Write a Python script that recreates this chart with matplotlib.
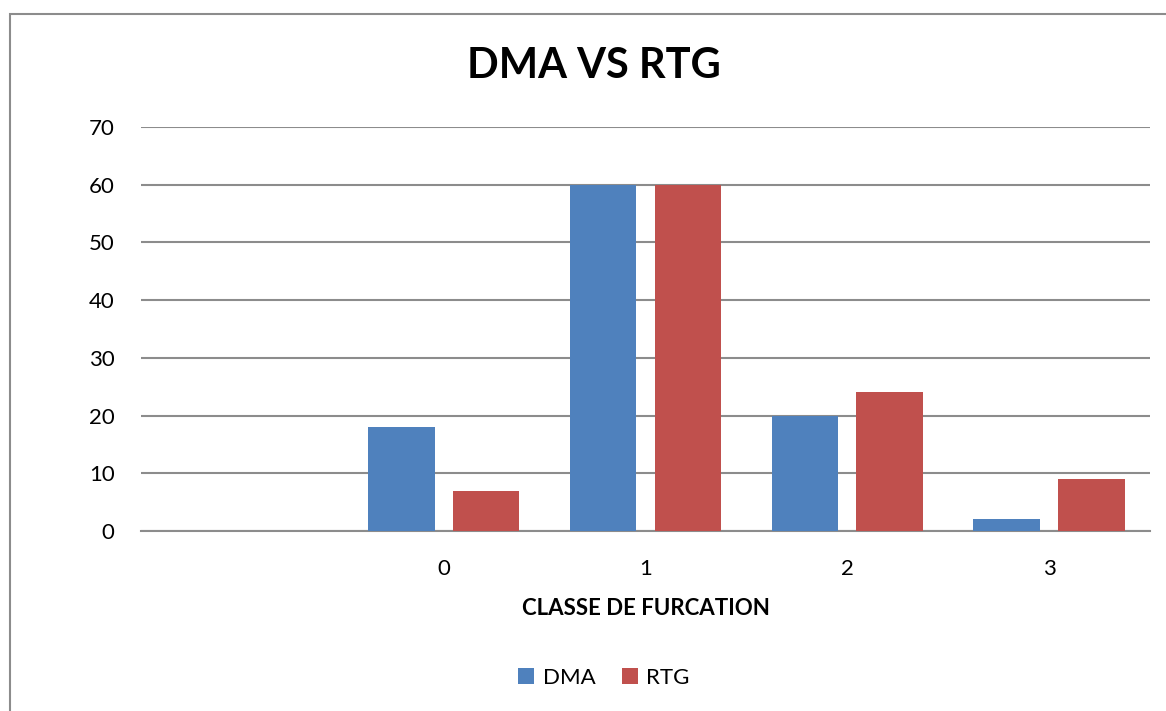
import matplotlib
matplotlib.use('Agg')
from matplotlib import pyplot as plt
from matplotlib.patches import Rectangle
import numpy as np

plt.rcParams['font.family'] = ['Lato', 'DejaVu Sans']

# categories (the first one is empty in the source sheet)
categories = ['', '0', '1', '2', '3']
dma = [0, 18, 60, 20, 2]
rtg = [0, 7, 60, 24, 9]

blue = '#4f81bd'
red = '#c0504d'

fig = plt.figure(figsize=(11.66, 7.11), dpi=100)
ax = fig.add_axes([141 / 1166, 1 - 531 / 711, (1150 - 141) / 1166, (531 - 127) / 711])

x = np.arange(len(categories))
w = 0.33
ax.bar(x - 0.21, dma, w, color=blue, label='DMA', zorder=3)
ax.bar(x + 0.21, rtg, w, color=red, label='RTG', zorder=3)

ax.set_xlim(-0.5, len(categories) - 0.5)
ax.set_ylim(0, 70)
ax.set_yticks(range(0, 71, 10))
ax.set_xticks(x)
ax.set_xticklabels(categories)
ax.grid(axis='y', color='#8c8c8c', linewidth=1.5, zorder=0)
for s in ['top', 'right', 'left']:
    ax.spines[s].set_visible(False)
ax.spines['bottom'].set_color('#8c8c8c')
ax.spines['bottom'].set_linewidth(1.5)
ax.tick_params(axis='both', length=0, labelsize=16)
ax.tick_params(axis='y', pad=19)
ax.tick_params(axis='x', pad=20)

ax.set_xlabel('CLASSE DE FURCATION', fontsize=16, fontweight='bold', labelpad=14)
fig.text(594 / 1166, 1 - 66 / 711, 'DMA VS RTG', fontsize=30, fontweight='bold',
         ha='center', va='center')

fig.legend(loc='center', bbox_to_anchor=(604 / 1166, 1 - 678 / 711), ncol=2,
           frameon=False, fontsize=16, handlelength=0.7, handleheight=0.7,
           handletextpad=0.4, columnspacing=1.2)

# chart frame
fig.patches.append(Rectangle((10 / 1166, -0.1), 1.2, 1 - 14 / 711 + 0.1,
                             transform=fig.transFigure, fill=False,
                             edgecolor='#8c8c8c', linewidth=1.5))

fig.savefig('out.png', dpi=100)
